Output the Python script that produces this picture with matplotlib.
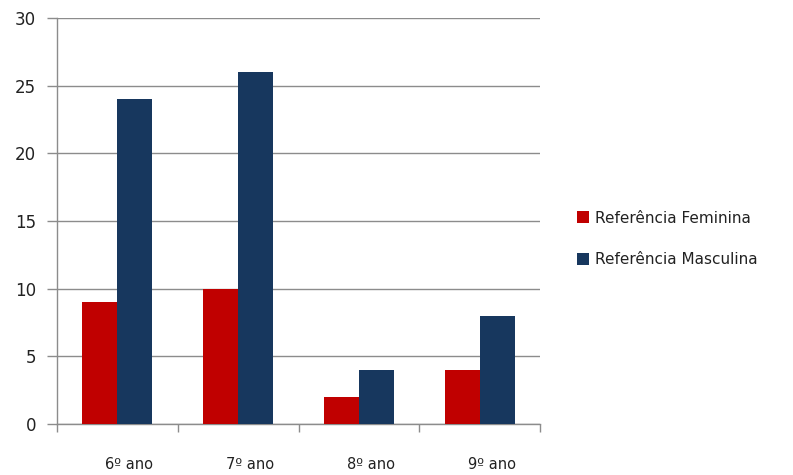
import matplotlib
matplotlib.use("Agg")
import matplotlib.pyplot as plt
import matplotlib.transforms as mtransforms
import numpy as np

# series per school year
anos = ["6º ano", "7º ano", "8º ano", "9º ano"]
feminina = [9, 10, 2, 4]
masculina = [24, 26, 4, 8]

cor_fem = "#C00000"
cor_masc = "#17375E"
cinza = "#8C8C8C"

fig = plt.figure(figsize=(7.93, 4.75), dpi=100)
ax = fig.add_axes([0.072, 0.107, 0.609, 0.855])

x = np.arange(len(anos)) + 0.5
largura = 0.29
ax.bar(x - largura / 2, feminina, largura, color=cor_fem, label="Referência Feminina", zorder=3)
ax.bar(x + largura / 2, masculina, largura, color=cor_masc, label="Referência Masculina", zorder=3)

ax.set_xlim(0, 4)
ax.set_ylim(0, 30)
ax.set_yticks(range(0, 31, 5))
ax.yaxis.grid(True, color=cinza, linewidth=1.0, zorder=0)
ax.set_axisbelow(True)

for lado in ["top", "right"]:
    ax.spines[lado].set_visible(False)
for lado in ["left", "bottom"]:
    ax.spines[lado].set_color(cinza)
    ax.spines[lado].set_linewidth(1.0)

# category boundaries get the ticks, names sit under each group
ax.set_xticks(np.arange(0, 5))
ax.set_xticklabels([])
ax.tick_params(axis="x", length=6, color=cinza, width=1.0)
ax.tick_params(axis="y", length=7, color=cinza, width=1.0, labelsize=12, pad=8, labelcolor="#222222")

deslocamento = mtransforms.ScaledTranslation(0.12, -0.33, fig.dpi_scale_trans)
for pos, nome in zip(x, anos):
    ax.text(pos, 0, nome, ha="center", va="top", fontsize=10.5, color="#222222",
            transform=ax.get_xaxis_transform() + deslocamento)

fig.legend(loc="center left", bbox_to_anchor=(0.71, 0.497), frameon=False,
           fontsize=11, handlelength=0.8, handleheight=0.8, handletextpad=0.4,
           labelspacing=1.75, labelcolor="#222222")

fig.savefig("out.png", dpi=100)
